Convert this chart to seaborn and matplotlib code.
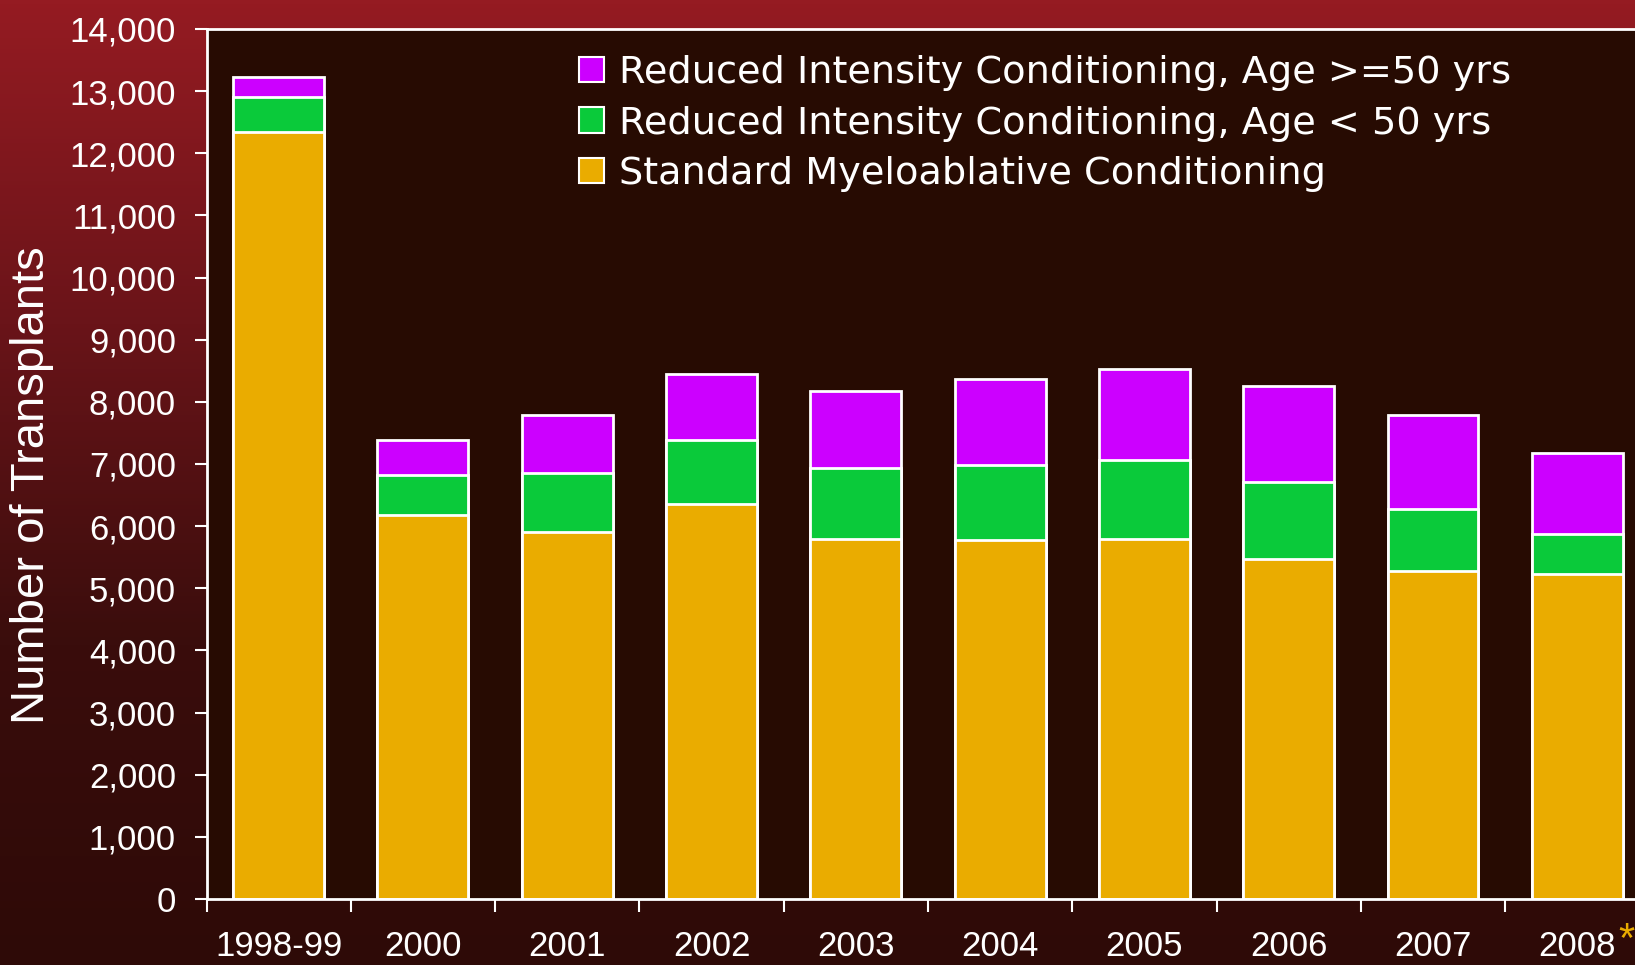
import numpy as np
import pandas as pd
import seaborn as sns
import matplotlib.pyplot as plt
import matplotlib.transforms as mtransforms
from matplotlib.colors import LinearSegmentedColormap
from matplotlib.patches import Patch

# Data
years = ["1998-99", "2000", "2001", "2002", "2003", "2004", "2005", "2006", "2007", "2008"]
standard = [12340, 6180, 5900, 6350, 5790, 5780, 5790, 5470, 5280, 5230]
ric_under50 = [560, 640, 960, 1030, 1150, 1200, 1270, 1240, 990, 650]
ric_over50 = [320, 560, 920, 1070, 1230, 1390, 1470, 1550, 1510, 1300]

labels = ["Reduced Intensity Conditioning, Age >=50 yrs",
          "Reduced Intensity Conditioning, Age < 50 yrs",
          "Standard Myeloablative Conditioning"]
colors = ["#cc00ff", "#0aca3a", "#eaac00"]

df = pd.DataFrame({"year": years, "std": standard, "lt50": ric_under50, "ge50": ric_over50})
df["mid"] = df["std"] + df["lt50"]
df["total"] = df["mid"] + df["ge50"]

sns.set_style("white")
plt.rcParams["font.family"] = ["Liberation Sans Narrow", "Liberation Sans", "DejaVu Sans"]

fig = plt.figure(figsize=(16.35, 9.65), dpi=100)

# red gradient background
bg = fig.add_axes([0, 0, 1, 1], zorder=-10)
cmap = LinearSegmentedColormap.from_list("bg", ["#951b22", "#6a1419", "#3a0d0c", "#2e0a07"])
grad = np.linspace(0, 1, 256).reshape(-1, 1)
bg.imshow(grad, aspect="auto", cmap=cmap, extent=[0, 1, 0, 1])
bg.axis("off")

ax = fig.add_axes([0.1263, 0.0684, 0.8737, 0.9016])
ax.set_facecolor("#270b02")

kw = dict(width=0.63, edgecolor="white", linewidth=2, ax=ax)
sns.barplot(data=df, x="year", y="total", color=colors[0], saturation=1, **kw)
sns.barplot(data=df, x="year", y="mid", color=colors[1], saturation=1, **kw)
sns.barplot(data=df, x="year", y="std", color=colors[2], saturation=1, **kw)

ax.set_xlim(-0.5, 9.4)
ax.set_ylim(0, 14000)
ax.set_yticks(np.arange(0, 14001, 1000))
ax.set_yticklabels([f"{v:,}" for v in range(0, 14001, 1000)])

n = len(years)
ax.set_xticks(np.arange(n) - 0.5)
ax.set_xticklabels([""] * n)
ax.set_xticks(np.arange(n), minor=True)
ax.set_xticklabels(years, minor=True)

ax.tick_params(axis="y", which="major", direction="out", length=9, width=1.5,
               color="white", labelcolor="white", labelsize=25, pad=13, left=True)
ax.tick_params(axis="x", which="major", direction="out", length=9, width=1.5,
               color="white", bottom=True)
ax.tick_params(axis="x", which="minor", length=0, labelcolor="white", labelsize=25, pad=22)

for s in ["left", "top", "bottom"]:
    ax.spines[s].set_color("white")
    ax.spines[s].set_linewidth(2)
ax.spines["right"].set_visible(False)

ax.set_xlabel("")
ax.set_ylabel("Number of Transplants", color="white", fontsize=34,
              family=["Liberation Sans", "DejaVu Sans"])
ax.yaxis.set_label_coords(-0.107, 0.476)

# orange asterisk on last label
trans = mtransforms.blended_transform_factory(ax.transData, ax.transAxes)
ax.text(9.34, -0.048, "*", transform=trans, color="#eaac00", fontsize=30,
        ha="center", va="center", clip_on=False)

handles = [Patch(facecolor=c, edgecolor="white", linewidth=1.5) for c in colors]
leg = fig.legend(handles, labels, loc="upper left", bbox_to_anchor=(0.354, 0.943),
                 frameon=False, prop={"family": "DejaVu Sans", "size": 27.5},
                 handlelength=0.65, handleheight=0.65, handletextpad=0.4,
                 labelspacing=0.38, borderpad=0, borderaxespad=0)
for t in leg.get_texts():
    t.set_color("white")

plt.savefig("out.png", dpi=100)
